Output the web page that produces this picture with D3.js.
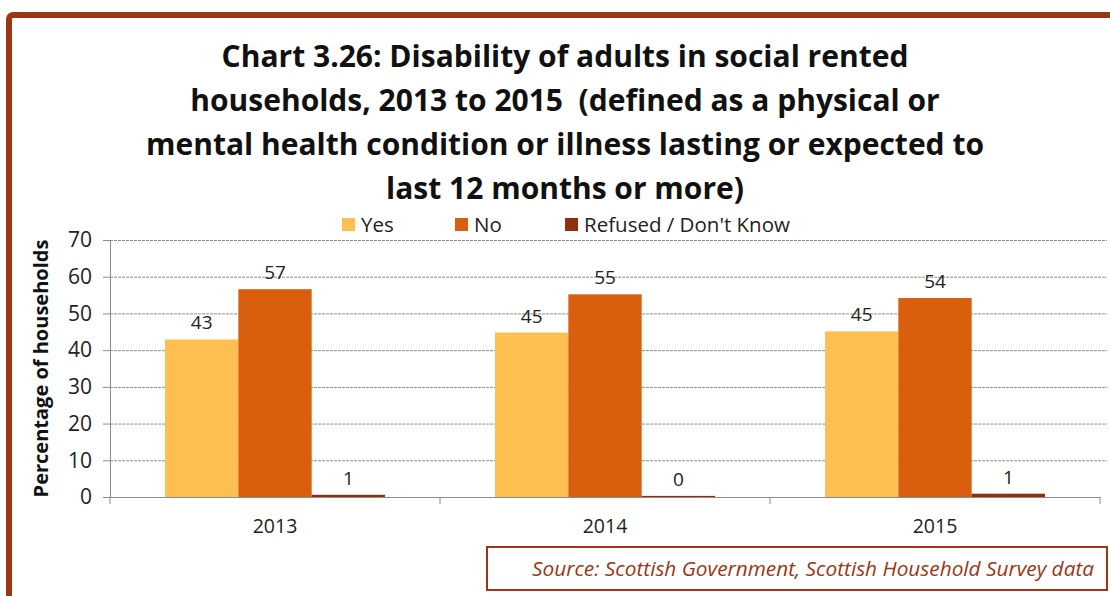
<!DOCTYPE html>
<html lang="en">
<head>
    <meta charset="UTF-8">
    <title>Disability of adults in social rented households</title>
    <script src="https://d3js.org/d3.v7.min.js"></script>
    <style>
        body {
            margin: 0;
            background: #fff;
            font-family: "Open Sans", sans-serif;
        }

        .grid line {
            stroke: #8c8c8c;
            stroke-dasharray: 3,1;
        }

        .grid path {
            stroke: none;
        }

        .axis path, .axis line {
            stroke: #8c8c8c;
        }

        .axis text {
            fill: #222;
        }
    </style>
</head>
<body>
    <div id="chart"></div>
    <script>
        const years = ["2013", "2014", "2015"];
        const seriesNames = ["Yes", "No", "Refused / Don't Know"];
        const yesValues = [42.9, 44.8, 45.1];
        const noValues = [56.6, 55.2, 54.2];
        const refusedValues = [0.6, 0.3, 0.9];
        const yTicks = [0, 10, 20, 30, 40, 50, 60, 70];
        const colors = ["#fdc050", "#d95f0e", "#8f2f0b"];
        const titleLines = [
            "Chart 3.26: Disability of adults in social rented",
            "households, 2013 to 2015\u00a0 (defined as a physical or",
            "mental health condition or illness lasting or expected to",
            "last 12 months or more)"
        ];

        const W = 1110, H = 596;
        const margin = { top: 240, right: 10, bottom: 99, left: 110 };
        const width = 1100 - margin.left;
        const height = H - margin.top - margin.bottom;

        const root = d3.select("#chart")
            .append("svg")
            .attr("width", W)
            .attr("height", H);

        // outer frame
        root.append("rect")
            .attr("x", 9)
            .attr("y", 15)
            .attr("width", 1130)
            .attr("height", 640)
            .attr("rx", 4)
            .attr("fill", "none")
            .attr("stroke", "#9c3513")
            .attr("stroke-width", 6);

        // title
        root.append("g").selectAll("text")
            .data(titleLines)
            .enter()
            .append("text")
            .attr("x", 565)
            .attr("y", (d, i) => 67 + i * 44)
            .attr("text-anchor", "middle")
            .attr("font-size", "30px")
            .attr("font-weight", "bold")
            .attr("fill", "#111")
            .text(d => d);

        // legend
        const legendX = [342, 455, 565];
        const legend = root.append("g").selectAll("g")
            .data(seriesNames)
            .enter()
            .append("g")
            .attr("transform", (d, i) => `translate(${legendX[i]},218)`);
        legend.append("rect")
            .attr("width", 13)
            .attr("height", 13)
            .attr("fill", (d, i) => colors[i]);
        legend.append("text")
            .attr("x", 19)
            .attr("y", 14)
            .attr("font-size", "20.5px")
            .attr("fill", "#222")
            .text(d => d);

        const svg = root.append("g")
            .attr("transform", `translate(${margin.left},${margin.top})`);

        const x0 = d3.scaleBand()
            .domain(years)
            .range([0, width]);

        const x1 = d3.scaleBand()
            .domain(seriesNames)
            .range([0, x0.bandwidth() * 2 / 3]);

        const y = d3.scaleLinear()
            .domain([0, 70])
            .range([height, 0]);

        // gridlines
        svg.append("g")
            .attr("class", "grid")
            .call(d3.axisLeft(y).tickValues(yTicks.slice(1)).tickSize(-width - 7).tickFormat(""));

        const data = years.map((yr, i) => ({
            year: yr,
            values: [yesValues[i], noValues[i], refusedValues[i]]
        }));

        const groups = svg.selectAll(".group")
            .data(data)
            .enter()
            .append("g")
            .attr("transform", d => `translate(${x0(d.year) + x0.bandwidth() / 6},0)`);

        groups.selectAll("rect")
            .data(d => d.values.map((v, i) => ({ key: seriesNames[i], value: v, i })))
            .enter()
            .append("rect")
            .attr("x", d => x1(d.key))
            .attr("y", d => y(d.value))
            .attr("width", x1.bandwidth())
            .attr("height", d => height - y(d.value))
            .attr("fill", d => colors[d.i]);

        groups.selectAll(".lbl")
            .data(d => d.values.map((v, i) => ({ key: seriesNames[i], value: v })))
            .enter()
            .append("text")
            .attr("x", d => x1(d.key) + x1.bandwidth() / 2)
            .attr("y", d => y(d.value) - 10)
            .attr("text-anchor", "middle")
            .attr("font-size", "19px")
            .attr("fill", "#222")
            .text(d => d3.format(".0f")(d.value));

        // axes
        const xAxis = svg.append("g")
            .attr("class", "axis")
            .attr("transform", `translate(0,${height})`)
            .call(d3.axisBottom(x0).tickSize(0).tickSizeOuter(0));
        xAxis.selectAll("text")
            .attr("font-size", "19.5px")
            .attr("font-family", "'Open Sans', sans-serif")
            .attr("y", 22)
            .attr("dy", "0.71em");
        xAxis.selectAll(".sep")
            .data(d3.range(years.length + 1))
            .enter()
            .append("line")
            .attr("x1", i => i * x0.bandwidth())
            .attr("x2", i => i * x0.bandwidth())
            .attr("y1", 0)
            .attr("y2", 7)
            .attr("stroke", "#8c8c8c");

        const yAxis = svg.append("g")
            .attr("class", "axis")
            .call(d3.axisLeft(y).tickValues(yTicks).tickSize(7).tickSizeOuter(0).tickPadding(11));
        yAxis.selectAll("text")
            .attr("font-size", "21px")
            .attr("font-family", "'Open Sans', sans-serif");

        svg.append("text")
            .attr("transform", `translate(-62,${height / 2}) rotate(-90)`)
            .attr("text-anchor", "middle")
            .attr("font-size", "20px")
            .attr("font-weight", "bold")
            .attr("fill", "#111")
            .text("Percentage of households");

        // source box
        root.append("rect")
            .attr("x", 487)
            .attr("y", 547)
            .attr("width", 620)
            .attr("height", 43)
            .attr("fill", "#fff")
            .attr("stroke", "#9c3513")
            .attr("stroke-width", 2);
        root.append("text")
            .attr("x", 1094)
            .attr("y", 576)
            .attr("text-anchor", "end")
            .attr("font-size", "20.8px")
            .attr("font-style", "italic")
            .attr("fill", "#9c3513")
            .text("Source: Scottish Government, Scottish Household Survey data");
    </script>
</body>
</html>
